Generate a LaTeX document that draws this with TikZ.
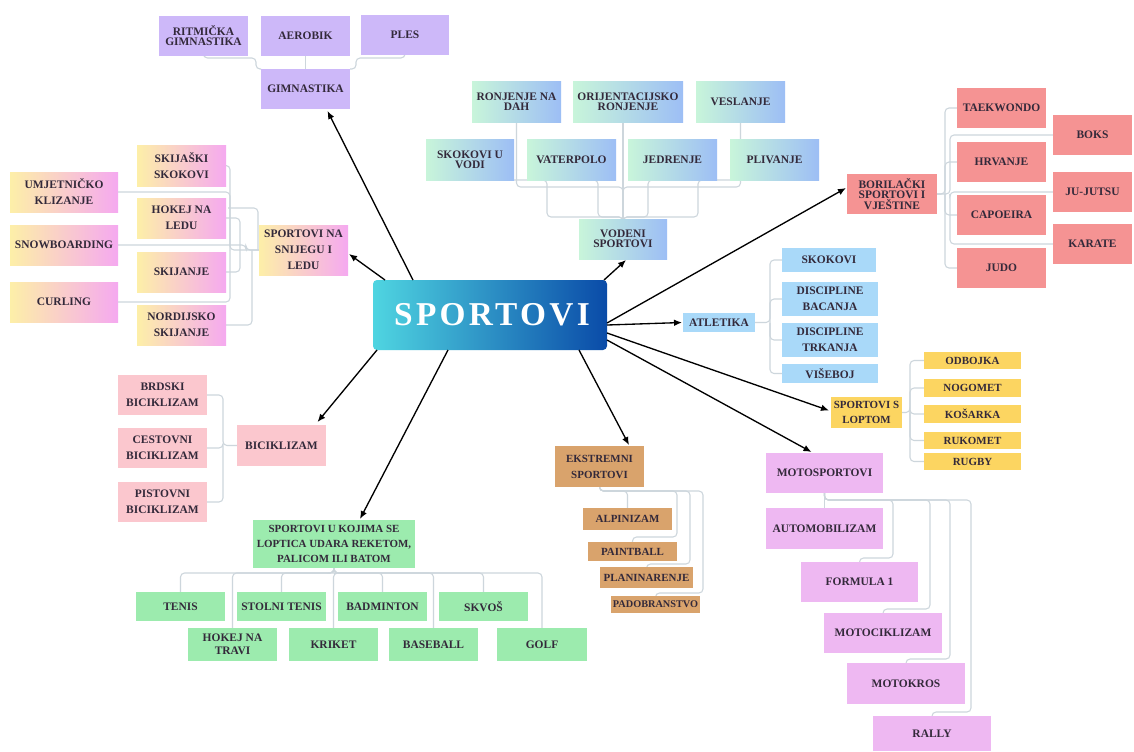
\documentclass[tikz,border=0pt]{standalone}
\usepackage{fontspec}
\setmainfont{Liberation Serif}
\usetikzlibrary{arrows.meta,calc,backgrounds}
\definecolor{txt}{HTML}{33293A}
\definecolor{lineC}{HTML}{CDD6DC}
\definecolor{gymc}{HTML}{CDB8F9}
\definecolor{winL}{HTML}{FDEFA8}
\definecolor{winR}{HTML}{F5A9F0}
\definecolor{watL}{HTML}{C8F5DA}
\definecolor{watR}{HTML}{9DBEF5}
\definecolor{martc}{HTML}{F59393}
\definecolor{atlc}{HTML}{A9D9F9}
\definecolor{ballc}{HTML}{FCD561}
\definecolor{cycc}{HTML}{FBC7CE}
\definecolor{racc}{HTML}{9CEBAE}
\definecolor{extc}{HTML}{D9A36C}
\definecolor{motc}{HTML}{EEB8F2}
\definecolor{cenL}{HTML}{4FD5E1}
\definecolor{cenR}{HTML}{0A4BA8}
\newcommand{\bx}[7]{\node[#1, minimum width={0.75pt*(#4-#2)}, minimum height={0.75pt*(#5-#3)}] (#6) at ({(#2+#4)/2},{(#3+#5)/2}) {#7};}
\tikzset{
  base/.style={rectangle, inner sep=0pt, outer sep=0pt, align=center, text=txt, font=\bfseries\fontsize{8.6}{12}\selectfont},
  tight/.style={font=\bfseries\fontsize{8.6}{7.5}\selectfont},
  gymb/.style={base, fill=gymc},
  wint/.style={base, left color=winL, right color=winR},
  watb/.style={base, left color=watL, right color=watR},
  mart/.style={base, fill=martc},
  atlb/.style={base, fill=atlc},
  ball/.style={base, fill=ballc, font=\bfseries\fontsize{8.2}{11}\selectfont},
  cyc/.style={base, fill=cycc},
  rac/.style={base, fill=racc},
  ext/.style={base, fill=extc, font=\bfseries\fontsize{8.2}{12}\selectfont},
  mot/.style={base, fill=motc},
  cen/.style={rectangle, rounded corners=3pt, inner sep=0pt, outer sep=0pt, left color=cenL, right color=cenR, text=white, font=\bfseries\fontsize{25}{25}\selectfont\addfontfeature{LetterSpace=10}},
  conn/.style={draw=lineC, line width=0.8pt, rounded corners=3pt},
  arr/.style={draw=black, line width=1pt, -{Latex[length=6pt,width=5pt]}}
}
\begin{document}
\begin{tikzpicture}[x=0.75pt,y=-0.75pt]
\useasboundingbox (0,0) rectangle (1134,751);
% center
\bx{cen}{373}{280}{607}{350}{c}{\hspace*{3pt}SPORTOVI}
% gymnastics
\bx{gymb,tight}{159}{16}{248}{56}{rit}{RITMIČKA\\GIMNASTIKA}
\bx{gymb}{261}{16}{350}{56}{aer}{AEROBIK}
\bx{gymb}{361}{15}{449}{55}{ples}{PLES}
\bx{gymb}{261}{69}{350}{109}{gim}{GIMNASTIKA}
% winter
\bx{wint}{137}{145}{226}{186}{skij}{SKIJAŠKI\\SKOKOVI}
\bx{wint}{10}{172}{118}{212}{umj}{UMJETNIČKO\\KLIZANJE}
\bx{wint}{137}{198}{226}{238}{hok}{HOKEJ NA\\LEDU}
\bx{wint}{10}{225}{118}{265}{snow}{SNOWBOARDING}
\bx{wint}{137}{252}{226}{292}{ski}{SKIJANJE}
\bx{wint}{10}{282}{118}{322}{cur}{CURLING}
\bx{wint}{137}{305}{226}{345}{nor}{NORDIJSKO\\SKIJANJE}
\bx{wint}{259}{225}{348}{275}{win}{SPORTOVI NA\\SNIJEGU I\\LEDU}
% water
\bx{watb,tight}{472}{81}{561}{122}{ron}{RONJENJE NA\\DAH}
\bx{watb,tight}{573}{81}{683}{122}{ori}{ORIJENTACIJSKO\\RONJENJE}
\bx{watb}{696}{81}{785}{122}{ves}{VESLANJE}
\bx{watb,tight}{426}{139}{514}{180}{sko}{SKOKOVI U\\VODI}
\bx{watb}{527}{139}{616}{180}{vat}{VATERPOLO}
\bx{watb}{628}{139}{717}{180}{jed}{JEDRENJE}
\bx{watb}{730}{139}{819}{180}{pli}{PLIVANJE}
\bx{watb,tight}{579}{219}{667}{259}{vod}{VODENI\\SPORTOVI}
% martial
\bx{mart,tight}{847}{174}{937}{214}{bor}{BORILAČKI\\SPORTOVI I\\VJEŠTINE}
\bx{mart}{957}{88}{1046}{128}{tae}{TAEKWONDO}
\bx{mart}{957}{142}{1046}{182}{hrv}{HRVANJE}
\bx{mart}{957}{195}{1046}{235}{cap}{CAPOEIRA}
\bx{mart}{957}{248}{1046}{288}{jud}{JUDO}
\bx{mart}{1053}{115}{1132}{155}{boks}{BOKS}
\bx{mart}{1053}{172}{1132}{212}{juj}{JU-JUTSU}
\bx{mart}{1053}{224}{1132}{264}{kar}{KARATE}
% athletics
\bx{atlb}{683}{313}{755}{332}{atl}{ATLETIKA}
\bx{atlb}{782}{248}{876}{272}{skk}{SKOKOVI}
\bx{atlb}{782}{282}{878}{316}{dba}{DISCIPLINE\\BACANJA}
\bx{atlb}{782}{323}{878}{357}{dtr}{DISCIPLINE\\TRKANJA}
\bx{atlb}{782}{364}{878}{383}{vis}{VIŠEBOJ}
% ball
\bx{ball}{831}{397}{902}{428}{lop}{SPORTOVI S\\LOPTOM}
\bx{ball}{924}{352}{1021}{369}{odb}{ODBOJKA}
\bx{ball}{924}{379}{1021}{397}{nog}{NOGOMET}
\bx{ball}{924}{405}{1021}{423}{kos}{KOŠARKA}
\bx{ball}{924}{432}{1021}{449}{ruk}{RUKOMET}
\bx{ball}{924}{453}{1021}{470}{rug}{RUGBY}
% cycling
\bx{cyc}{118}{375}{207}{415}{brd}{BRDSKI\\BICIKLIZAM}
\bx{cyc}{118}{428}{207}{468}{ces}{CESTOVNI\\BICIKLIZAM}
\bx{cyc}{118}{482}{207}{522}{pis}{PISTOVNI\\BICIKLIZAM}
\bx{cyc}{237}{425}{326}{466}{bic}{BICIKLIZAM}
% racket
\bx{rac,font=\bfseries\fontsize{8.2}{11}\selectfont}{253}{520}{415}{568}{rak}{SPORTOVI U KOJIMA SE\\LOPTICA UDARA REKETOM,\\PALICOM ILI BATOM}
\bx{rac}{136}{592}{225}{621}{ten}{TENIS}
\bx{rac}{237}{592}{326}{621}{sto}{STOLNI TENIS}
\bx{rac}{338}{592}{427}{621}{bad}{BADMINTON}
\bx{rac}{439}{592}{528}{621}{skv}{SKVOŠ}
\bx{rac,font=\bfseries\fontsize{8.6}{10}\selectfont}{188}{628}{277}{661}{hkt}{HOKEJ NA\\TRAVI}
\bx{rac}{289}{628}{378}{661}{kri}{KRIKET}
\bx{rac}{389}{628}{478}{661}{bas}{BASEBALL}
\bx{rac}{497}{628}{587}{661}{gol}{GOLF}
% extreme
\bx{ext}{555}{446}{644}{487}{eks}{EKSTREMNI\\SPORTOVI}
\bx{ext}{583}{508}{672}{530}{alp}{ALPINIZAM}
\bx{ext}{588}{542}{677}{561}{pai}{PAINTBALL}
\bx{ext}{600}{567}{693}{588}{pla}{PLANINARENJE}
\bx{ext,font=\bfseries\fontsize{7.7}{10}\selectfont}{611}{596}{700}{613}{pad}{PADOBRANSTVO}
% moto
\bx{mot}{766}{453}{883}{493}{mos}{MOTOSPORTOVI}
\bx{mot}{766}{508}{883}{549}{aut}{AUTOMOBILIZAM}
\bx{mot}{801}{562}{918}{602}{f1}{FORMULA 1}
\bx{mot}{824}{613}{942}{653}{mci}{MOTOCIKLIZAM}
\bx{mot}{847}{663}{965}{704}{mkr}{MOTOKROS}
\bx{mot}{873}{716}{991}{751}{ral}{RALLY}

\begin{scope}[on background layer]
\fill[white] (0,0) rectangle (1134,751);
% gym
\draw[conn] (aer.south) -- (gim.north);
\draw[conn] (rit.south) |- (256,58) |- (gim.north west);
\draw[conn] (ples.south) |- (356,58) |- (gim.north east);
% winter
\draw[conn] (umj.east) -| (230,250) -- (win.west);
\draw[conn] (skij.east) -| (230,250);
\draw[conn] (cur.east) -| (230,250);
\draw[conn] (hok.east) -| (240,250);
\draw[conn] (ski.east) -| (240,250);
\draw[conn] (snow.east) -- (246,245) |- (win.west);
\draw[conn] (nor.east) -| (252,250);
\draw[conn] ($(hok.north east)+(2,10)$) -| (258,250);
% water
\draw[conn] (ron.south) -- ++(0,65) -| (vod.north);
\draw[conn] (ves.south) -- ++(0,65) -| (vod.north);
\draw[conn] (vod.north) -- (vod.north |- ori.south);
\draw[conn] (sko.south) -| (547,217) -| (vod.north);
\draw[conn] (vat.south) -| (598,217) -| (vod.north);
\draw[conn] (jed.south) -| (648,217) -| (vod.north);
\draw[conn] (pli.south) -| (698,217) -| (vod.north);
% martial
\draw[conn] (bor.east) -- (945,194) |- (tae.west);
\draw[conn] (945,194) |- (hrv.west);
\draw[conn] (945,194) |- (cap.west);
\draw[conn] (945,194) |- (jud.west);
\draw[conn] (bor.east) -- (950,194) |- (boks.west);
\draw[conn] (950,194) |- (juj.west);
\draw[conn] (950,194) |- (kar.west);
% athletics
\draw[conn] (atl.east) -- (770,322.5) |- (skk.west);
\draw[conn] (770,322.5) |- (dba.west);
\draw[conn] (770,322.5) |- (dtr.west);
\draw[conn] (770,322.5) |- (vis.west);
% ball
\draw[conn] (lop.east) -- (910,412.5) |- (odb.west);
\draw[conn] (910,412.5) |- (nog.west);
\draw[conn] (910,412.5) |- (kos.west);
\draw[conn] (910,412.5) |- (ruk.west);
\draw[conn] (910,412.5) |- (rug.west);
% cycling
\draw[conn] (bic.west) -- (223,445.5) |- (brd.east);
\draw[conn] (223,445.5) |- (ces.east);
\draw[conn] (223,445.5) |- (pis.east);
% racket
\foreach \k in {ten,sto,bad,skv,hkt,kri,bas,gol}
  \draw[conn] (rak.south) -- ++(0,5) -| (\k.north);
% extreme
\draw[conn] (eks.south) -- ++(0,4) -| (alp.north);
\draw[conn] (eks.south) -- ++(0,4) -| (677,537) -| (pai.north);
\draw[conn] (eks.south) -- ++(0,4) -| (690,564) -| (pla.north);
\draw[conn] (eks.south) -- ++(0,4) -| (703,593) -| (pad.north);
% moto
\draw[conn] (mos.south) -- (aut.north);
\draw[conn] (mos.south) -- ++(0,7) -| (893,558) -| (f1.north);
\draw[conn] (mos.south) -- ++(0,7) -| (930,609) -| (mci.north);
\draw[conn] (mos.south) -- ++(0,7) -| (950,659) -| (mkr.north);
\draw[conn] (mos.south) -- ++(0,7) -| (971,712) -| (ral.north);
\end{scope}

% arrows from center
\draw[arr] ($(c.north west)+(40,0)$) -- ($(gim.south)+(22,2)$);
\draw[arr] ($(c.north west)+(12,0)$) -- ($(win.east)+(1,4)$);
\draw[arr] ($(c.north east)+(-3,0)$) -- ($(vod.south)+(3,1)$);
\draw[arr] ($(c.east)+(0,8)$) -- ($(bor.west)+(-1,-6)$);
\draw[arr] ($(c.east)+(0,10)$) -- ($(atl.west)+(-1,0)$);
\draw[arr] ($(c.east)+(0,18)$) -- ($(lop.west)+(-2,-2)$);
\draw[arr] ($(c.east)+(0,25)$) -- ($(mos.north)+(-13,-1)$);
\draw[arr] ($(c.south east)+(-28,0)$) -- ($(eks.north)+(29.5,-1)$);
\draw[arr] ($(c.south west)+(75,0)$) -- ($(rak.north)+(26,-1)$);
\draw[arr] ($(c.south west)+(4,0)$) -- ($(bic.north)+(36,-3)$);
\end{tikzpicture}
\end{document}
